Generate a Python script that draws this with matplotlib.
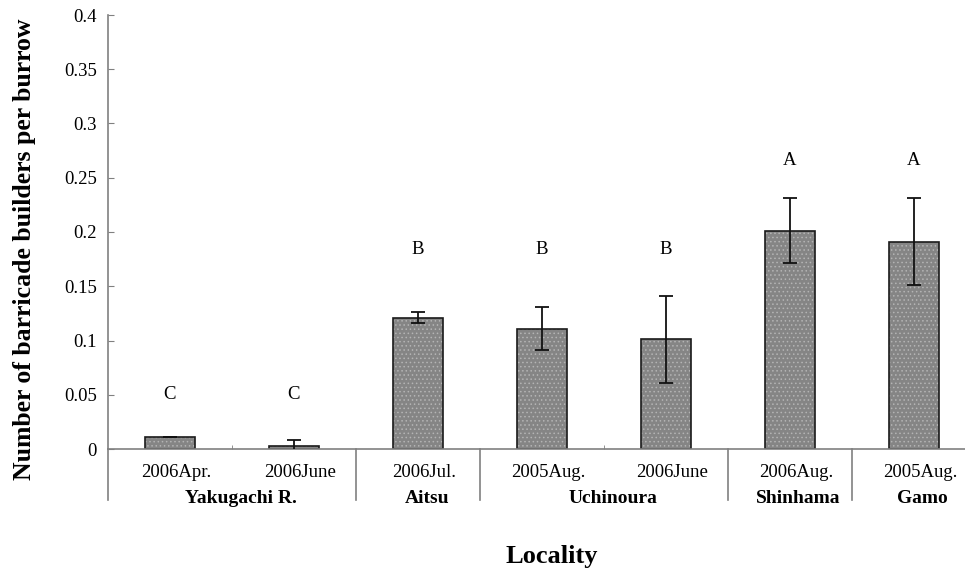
import numpy as np
import matplotlib.pyplot as plt

# values
dates = ['2006Apr.', '2006June', '2006Jul.', '2005Aug.', '2006June', '2006Aug.', '2005Aug.']
means = [0.011, 0.003, 0.121, 0.111, 0.101, 0.201, 0.191]
errors = [0.0, 0.0055, 0.005, 0.02, 0.04, 0.03, 0.04]
letters = ['C', 'C', 'B', 'B', 'B', 'A', 'A']
letter_y = [0.05, 0.05, 0.184, 0.184, 0.184, 0.266, 0.266]
localities = ['Yakugachi R.', 'Aitsu', 'Uchinoura', 'Shinhama', 'Gamo']
locality_members = [[0, 1], [2], [3, 4], [5], [6]]

plt.rcParams['font.family'] = ['Liberation Serif', 'DejaVu Serif']
plt.rcParams['hatch.linewidth'] = 0.6

fig = plt.figure(figsize=(9.65, 5.71), dpi=100)
ax = fig.add_axes([108 / 965, 1 - 449 / 571, (976 - 108) / 965, (449 - 15) / 571])

ind = np.arange(len(dates))
width = 0.41
axis_grey = '#808080'

# dotted grey fill, then a dark outline on top
ax.bar(ind, means, width, color='#858585', edgecolor='#b4b4b4', linewidth=0,
       hatch='....', zorder=2)
ax.bar(ind, means, width, fill=False, edgecolor='#1a1a1a', linewidth=1.2, zorder=2)
ax.errorbar(ind, means, yerr=errors, fmt='none', ecolor='#111111', elinewidth=1.3,
            capsize=5, capthick=1.3, zorder=3)

for x, t, y in zip(ind, letters, letter_y):
    ax.text(x, y, t, ha='center', va='center', fontsize=13.5)

ax.set_ylim(0, 0.4)
ax.set_xlim(-0.5, 6.5)
ax.set_yticks(np.arange(0, 0.401, 0.05))
ax.set_yticklabels(['0', '0.05', '0.1', '0.15', '0.2', '0.25', '0.3', '0.35', '0.4'])
ax.tick_params(axis='y', direction='in', length=4, color=axis_grey, labelsize=13.5, pad=8)
ax.set_xticks(ind + 0.05)
ax.set_xticklabels(dates)
ax.tick_params(axis='x', length=0, labelsize=13.5, pad=11)
ax.set_xticks([0.5, 3.5], minor=True)
ax.tick_params(axis='x', which='minor', direction='in', length=3, color=axis_grey)

for s in ['top', 'right']:
    ax.spines[s].set_visible(False)
for s in ['left', 'bottom']:
    ax.spines[s].set_color(axis_grey)
    ax.spines[s].set_linewidth(1.2)

# separators between localities, hanging below the axis
trans = ax.get_xaxis_transform()
drop = -51 / 434
for x in [-0.5, 1.5, 2.5, 4.5, 5.5]:
    ax.plot([x, x], [0, drop], transform=trans, color=axis_grey, lw=1.2,
            clip_on=False)

for name, members in zip(localities, locality_members):
    ax.text(np.mean(members) + 0.07, -0.115, name, transform=trans, ha='center',
            va='center', fontsize=14, fontweight='bold')

fig.text(552 / 965, 1 - 556 / 571, 'Locality', ha='center', va='center',
         fontsize=19, fontweight='bold')
fig.text(25 / 965, 1 - 249 / 571, 'Number of barricade builders per burrow', rotation=90,
         ha='center', va='center', fontsize=18.5, fontweight='bold')

plt.savefig('out.png', dpi=100)
